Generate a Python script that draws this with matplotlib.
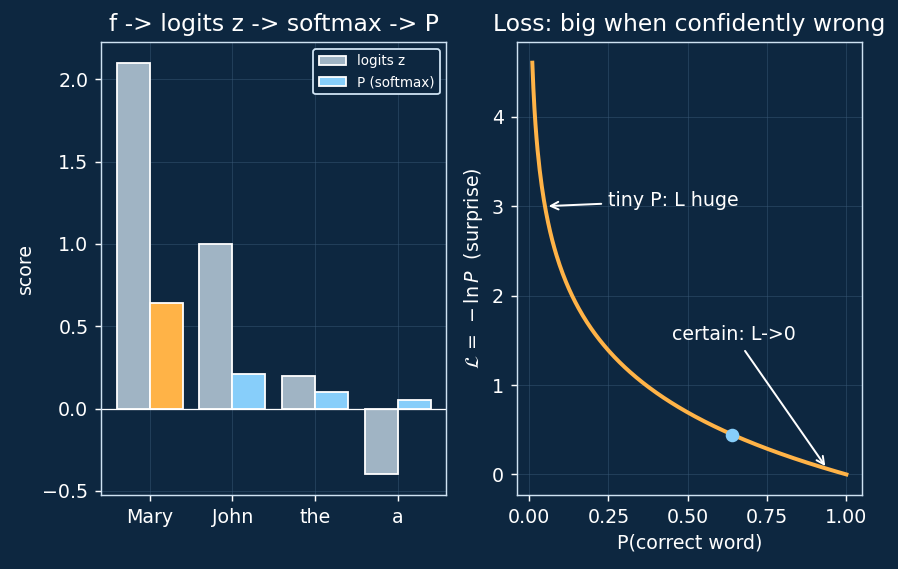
import numpy as np
import matplotlib
matplotlib.use("Agg")
import matplotlib.pyplot as plt

words = ["Mary", "John", "the", "a"]
logits = [2.1, 1.0, 0.2, -0.4]
probs = [0.64, 0.21, 0.10, 0.05]
p_correct = 0.64

BG = "#0d2740"
FG = "#ffffff"
SPINE = "#cfe3f3"
GREY = "#a0b4c4"
BLUE = "#87cefa"
ORANGE = "#ffb347"

plt.rcParams.update({
    "font.family": "DejaVu Sans",
    "text.color": FG,
    "axes.labelcolor": FG,
    "xtick.color": FG,
    "ytick.color": FG,
    "axes.edgecolor": SPINE,
})

DPI = 130
fig, (ax1, ax2) = plt.subplots(1, 2, figsize=(898 / DPI, 569 / DPI), dpi=DPI)
fig.patch.set_facecolor(BG)
for ax in (ax1, ax2):
    ax.set_facecolor(BG)
    ax.grid(True, color="#3a5a78", linewidth=0.5, alpha=0.5)
    ax.set_axisbelow(True)
    for s in ax.spines.values():
        s.set_color(SPINE)
    ax.tick_params(colors=FG, labelsize=10.5)

x = np.arange(len(words))
w = 0.4
ax1.bar(x - w / 2, logits, w, color=GREY, edgecolor="white", linewidth=1.0, label="logits z")
pcols = [ORANGE] + [BLUE] * (len(words) - 1)
ax1.bar(x + w / 2, probs, w, color=pcols, edgecolor="white", linewidth=1.0, label="P (softmax)")
ax1.axhline(0, color="white", linewidth=0.7)
ax1.set_xticks(x)
ax1.set_xticklabels(words)
ax1.set_ylabel("score", fontsize=10.5)
ax1.set_title("f -> logits z -> softmax -> P", fontsize=13, color=FG)
leg = ax1.legend(loc="upper right", fontsize=7.5, facecolor=BG, edgecolor=SPINE, framealpha=1)
for t in leg.get_texts():
    t.set_color(FG)
leg.legend_handles[1].set_facecolor(BLUE)

p = np.linspace(0.01, 1.0, 300)
ax2.plot(p, -np.log(p), color=ORANGE, linewidth=2.2)
ax2.plot([p_correct], [-np.log(p_correct)], "o", color=BLUE, markersize=6.5, zorder=5)
ax2.annotate("tiny P: L huge", xy=(0.05, 3.0), xytext=(0.25, 3.0), fontsize=10.5, color=FG,
             arrowprops=dict(arrowstyle="->", color="white", lw=1.1))
ax2.annotate("certain: L->0", xy=(0.94, 0.06), xytext=(0.45, 1.5), fontsize=10.5, color=FG,
             arrowprops=dict(arrowstyle="->", color="white", lw=1.1))
ax2.set_xticks([0.0, 0.25, 0.5, 0.75, 1.0])
ax2.set_xlabel("P(correct word)", fontsize=10.5)
ax2.set_ylabel(r"$\mathcal{L}\,=\,-\ln P$  (surprise)", fontsize=10.5)
ax2.set_title("Loss: big when confidently wrong", fontsize=13, color=FG)

fig.subplots_adjust(left=0.1125, right=0.96, bottom=0.13, top=0.926, wspace=0.203)
fig.savefig("out.png", dpi=DPI, facecolor=BG)
